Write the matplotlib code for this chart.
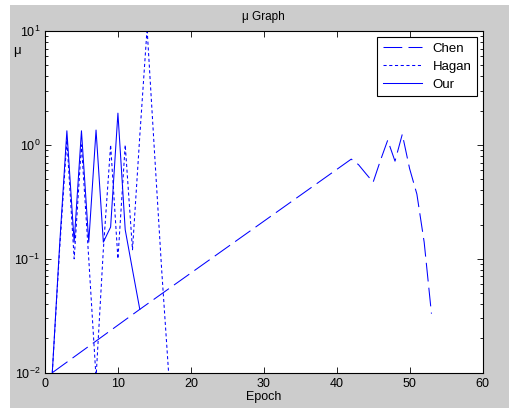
import matplotlib
matplotlib.use("Agg")
import matplotlib.pyplot as plt
from matplotlib.patches import Rectangle
from matplotlib.ticker import LogLocator, FixedLocator

plt.rcParams['font.family'] = ['Liberation Sans', 'DejaVu Sans']

# data
chen_epoch = [1, 13, 42, 43, 44, 45, 46, 47, 48, 49, 50, 51, 52, 53]
chen_mu = [0.01, 0.036, 0.75, 0.67, 0.56, 0.47, 0.73, 1.1, 0.72, 1.24, 0.62, 0.37, 0.14, 0.033]

hagan_epoch = list(range(1, 18))
hagan_mu = [0.01, 0.12, 1.1, 0.1, 1.0, 0.1, 0.009, 0.12, 1.0, 0.1, 1.0, 0.12, 1.2, 10.5, 0.9, 0.08, 0.009]

our_epoch = list(range(1, 14))
our_mu = [0.01, 0.13, 1.33, 0.14, 1.33, 0.14, 1.35, 0.14, 0.19, 1.9, 0.18, 0.08, 0.036]

fig = plt.figure(figsize=(5.09, 4.08), dpi=100, facecolor='white')
# grey MATLAB-style figure area
fig.patches.append(Rectangle((10 / 509, 0), 1 - 10 / 509, 1 - 5 / 408,
                             transform=fig.transFigure, facecolor='#cccccc',
                             edgecolor='none', zorder=-1))

ax = fig.add_axes([45 / 509, 35.3 / 408, 437.5 / 509, 341.7 / 408])
ax.set_facecolor('white')

ax.plot(chen_epoch, chen_mu, color='blue', lw=0.75, dashes=(18, 6), label='Chen')
ax.plot(hagan_epoch, hagan_mu, color='blue', lw=0.75, dashes=(3, 2.5), label='Hagan')
ax.plot(our_epoch, our_mu, color='blue', lw=0.75, label='Our')

ax.set_yscale('log')
ax.set_xlim(0, 60)
ax.set_ylim(0.01, 10)
ax.xaxis.set_major_locator(FixedLocator(range(0, 61, 10)))
ax.yaxis.set_major_locator(LogLocator(base=10, numticks=10))
ax.yaxis.set_minor_locator(LogLocator(base=10, subs=range(2, 10), numticks=20))

ax.tick_params(which='both', direction='in', top=True, right=True, labelsize=9, width=0.6)
ax.tick_params(which='major', length=4)
ax.tick_params(which='minor', length=2.5)
for s in ax.spines.values():
    s.set_linewidth(0.8)

ax.set_title('μ Graph', fontsize=8.5, pad=8)
ax.set_xlabel('Epoch', fontsize=9, labelpad=1)
ax.set_ylabel('μ', fontsize=9.5, rotation=0)
ax.yaxis.set_label_coords(-0.065, 0.925)

leg = ax.legend(loc='upper right', bbox_to_anchor=(0.987, 0.982), borderaxespad=0,
                fontsize=9.5, fancybox=False, framealpha=1, edgecolor='black',
                handlelength=3.0, labelspacing=0.45)
leg.get_frame().set_linewidth(0.8)

fig.savefig('out.png', dpi=100, facecolor=fig.get_facecolor())
